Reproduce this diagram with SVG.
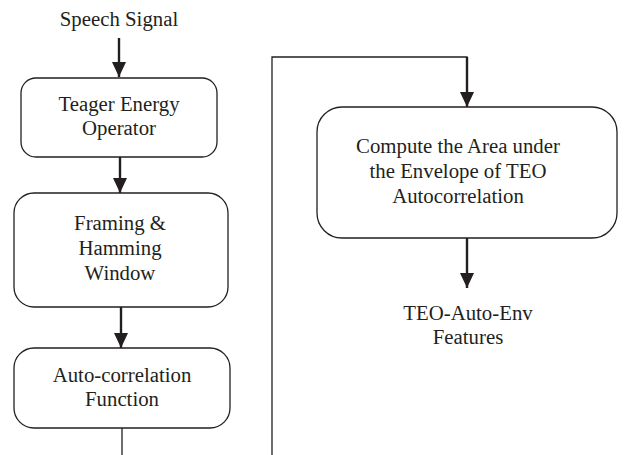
<svg xmlns="http://www.w3.org/2000/svg" width="624" height="455" viewBox="0 0 624 455">
<style>
text{font-family:"Liberation Serif","Times New Roman",serif;font-size:20.8px;fill:#231f20;text-anchor:middle}
.box{fill:#fff;stroke:#231f20;stroke-width:1.3}
.arr{fill:none;stroke:#231f20;stroke-width:2.4}
.thin{fill:none;stroke:#231f20;stroke-width:1.3}
</style>
<defs>
<marker id="ah" markerUnits="userSpaceOnUse" markerWidth="16" markerHeight="16" viewBox="0 0 16 16" refX="15" refY="8" orient="auto">
<path d="M0,1 L15,8 L0,15 Z" fill="#231f20"/>
</marker>
</defs>
<rect width="624" height="455" fill="#fff"/>
<g id="connectors">
<line class="arr" x1="119" y1="38" x2="119" y2="77" marker-end="url(#ah)"/>
<line class="arr" x1="120" y1="157" x2="120" y2="193" marker-end="url(#ah)"/>
<line class="arr" x1="121" y1="307" x2="121" y2="348" marker-end="url(#ah)"/>
<line class="thin" x1="122" y1="428" x2="122" y2="455"/>
<path class="thin" d="M272,455 V57 H467 V92"/>
<line class="arr" x1="467" y1="57" x2="467" y2="107" marker-end="url(#ah)"/>
<line class="arr" x1="467" y1="238" x2="467" y2="288" marker-end="url(#ah)"/>
</g>
<g id="input"><text x="119" y="26">Speech Signal</text></g>
<g id="teo">
<rect class="box" x="21" y="78" width="196" height="79" rx="15"/>
<text x="119" y="111">Teager Energy</text>
<text x="119" y="135">Operator</text>
</g>
<g id="framing">
<rect class="box" x="14" y="193" width="214" height="114" rx="20"/>
<text x="120" y="230">Framing &amp;</text>
<text x="120" y="255">Hamming</text>
<text x="120" y="280">Window</text>
</g>
<g id="autocorr">
<rect class="box" x="14" y="348" width="216" height="80" rx="20"/>
<text x="122" y="382">Auto-correlation</text>
<text x="122" y="406">Function</text>
</g>
<g id="area">
<rect class="box" x="317" y="107" width="300" height="131" rx="25"/>
<text x="458" y="153">Compute the Area under</text>
<text x="458" y="178">the Envelope of TEO</text>
<text x="458" y="203">Autocorrelation</text>
</g>
<g id="output">
<text x="468" y="320">TEO-Auto-Env</text>
<text x="468" y="344">Features</text>
</g>
</svg>
